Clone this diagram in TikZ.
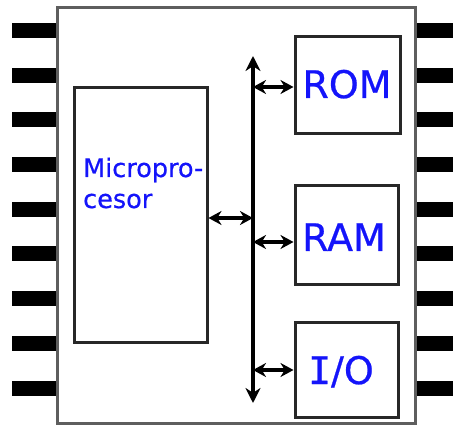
\documentclass[tikz,border=0pt]{standalone}
\usepackage{fontspec}
\setmainfont{DejaVu Sans}
\newfontfamily\monofnt{DejaVu Sans Mono}
\usetikzlibrary{arrows.meta}
\definecolor{txtblue}{RGB}{20,20,250}
\definecolor{edgegray}{RGB}{40,40,40}
\tikzset{
  pin/.style={fill=black,draw=none},
  blockbox/.style={draw=edgegray,line width=3pt,fill=white},
  bus/.style={line width=4.6pt,-{Stealth[length=15pt,width=15pt]}},
  link/.style={line width=4.2pt,{Stealth[length=13pt,width=14pt]}-{Stealth[length=13pt,width=14pt]}},
  bigtxt/.style={text=txtblue,font=\fontsize{38}{40}\selectfont\addfontfeatures{FakeBold=0.6},inner sep=0pt,anchor=base},
  midtxt/.style={text=txtblue,font=\fontsize{25.5}{31}\selectfont\addfontfeatures{FakeBold=0.6},inner sep=0pt,anchor=base west}
}
\begin{document}
\begin{tikzpicture}[x=1pt,y=-1pt]
\useasboundingbox (0,0) rectangle (453,425);
\fill[white] (0,0) rectangle (453,425);
% pins
\foreach \i in {0,...,8}{
  \fill[pin] (12,{23+\i*44.7}) rectangle (58,{38+\i*44.7});
  \fill[pin] (414,{23+\i*44.7}) rectangle (453,{38+\i*44.7});
}
% chip body
\draw[draw=edgegray!75,line width=3pt,fill=white] (57,8) rectangle (415,423);
% blocks
\node[blockbox,minimum width=133pt,minimum height=254pt,inner sep=0pt] (cpu) at (140.5,215) {};
\node[blockbox,minimum width=105pt,minimum height=97pt,inner sep=0pt] (rom) at (347.5,85.5) {};
\node[blockbox,minimum width=103pt,minimum height=98pt,inner sep=0pt] (ram) at (346.5,235) {};
\node[blockbox,minimum width=103pt,minimum height=95pt,inner sep=0pt] (io) at (346.5,369.5) {};
% texts
\node[midtxt] (cpu1) at (83,177) {Micropro-};
\node[midtxt] (cpu2) at (83,208) {cesor};
\node[bigtxt] (romt) at (347,98) {ROM};
\node[bigtxt] (ramt) at (344,251) {RAM};
\node[bigtxt] (iot) at (341,384) {{\monofnt\addfontfeatures{FakeBold=0.6}I}/O};
% bus
\coordinate (bustop) at (253,56);
\coordinate (busbot) at (253,403);
\draw[bus] (253,300) -- (bustop);
\draw[bus] (253,200) -- (busbot);
% links
\draw[link] (cpu.east |- 0,218) -- (253,218);
\draw[link] (253,87) -- (rom.west |- 0,87);
\draw[link] (253,242) -- (ram.west |- 0,242);
\draw[link] (253,370) -- (io.west |- 0,370);
\end{tikzpicture}
\end{document}
